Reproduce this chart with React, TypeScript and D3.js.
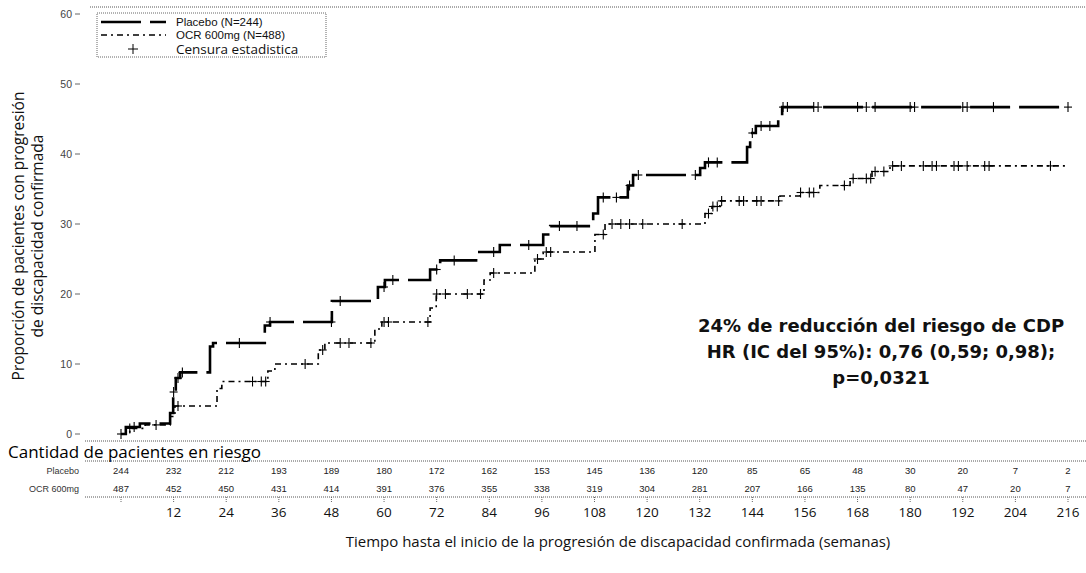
import React, { useEffect, useRef } from 'react';
import * as d3 from 'd3';

// Kaplan-Meier step points (week, % with confirmed progression)
const placeboSteps: [number, number][] = [
  [0, 0], [1.1, 1], [4.3, 1.5], [11.2, 3], [11.9, 6], [12.5, 8], [13.5, 8.8],
  [20.3, 12.5], [21, 13], [32.8, 15.5], [34, 16], [48.1, 19], [58.6, 21], [60.2, 22],
  [70.5, 23.5], [72.8, 24.8], [81.4, 26], [86.4, 27], [96.3, 28.5], [97.9, 29.7],
  [107.7, 31.5], [108.8, 33.8], [115.6, 35.5], [116.8, 37], [132.1, 38], [133.2, 38.8],
  [142.8, 41], [143.5, 43], [144.8, 44], [149.9, 45.5], [150.8, 46.7], [216, 46.7],
];
const ocrSteps: [number, number][] = [
  [0, 0], [2, 0.8], [5.5, 1.3], [11.2, 2.5], [12.3, 4], [21.9, 6.5], [23, 7.5],
  [33.5, 9], [35.1, 10], [45, 12], [46.5, 13], [57.9, 15], [59.5, 16], [70.5, 18],
  [71.9, 20], [82.8, 22], [84.2, 23], [94.4, 25], [96.3, 26], [108.1, 28.5], [110.4, 30],
  [133.2, 31.5], [134.8, 32.5], [136.6, 33.3], [150.3, 34], [154.9, 34.5], [159.4, 35.5],
  [166.3, 36.5], [171.3, 37.5], [175.4, 38.3], [216, 38.3],
];
const placeboCensor = [0, 3, 12, 13, 14, 27, 34, 48, 50, 60, 62, 72, 76, 85, 93, 100, 104, 110, 113, 116, 118, 131, 134, 136, 144, 146, 148, 151, 152, 158, 159, 168, 170, 172, 180, 181, 192, 193, 199, 216];
const ocrCensor = [2, 8, 13, 30, 32, 33, 42, 46, 50, 52, 57, 60, 61, 70, 72, 74, 79, 82, 85, 95, 97, 98, 110, 112, 114, 116, 119, 128, 134, 135, 136, 137, 141, 142, 145, 146, 150, 155, 157, 158, 165, 167, 170, 171, 172, 174, 176, 178, 183, 185, 186, 190, 191, 193, 197, 198, 212];

const riskWeeks = [0, 12, 24, 36, 48, 60, 72, 84, 96, 108, 120, 132, 144, 156, 168, 180, 192, 204, 216];
const placeboRisk = [244, 232, 212, 193, 189, 180, 172, 162, 153, 145, 136, 120, 85, 65, 48, 30, 20, 7, 2];
const ocrRisk = [487, 452, 450, 431, 414, 391, 376, 355, 338, 319, 304, 281, 207, 166, 135, 80, 47, 20, 7];
const xTicks = [12, 24, 36, 48, 60, 72, 84, 96, 108, 120, 132, 144, 156, 168, 180, 192, 204, 216];
const yTicks = [0, 10, 20, 30, 40, 50, 60];

const W = 1086;
const H = 573;

export default function App() {
  const svgRef = useRef<SVGSVGElement>(null);

  useEffect(() => {
    document.body.style.margin = '0';
    const svg = d3.select(svgRef.current);
    svg.selectAll('*').remove();

    const x = d3.scaleLinear().domain([0, 216]).range([121, 1068]);
    const y = d3.scaleLinear().domain([0, 60]).range([434, 14]);
    const sans = "'Open Sans', sans-serif";
    const small = "'Liberation Sans', Arial, sans-serif";

    // dotted frame lines
    const dotted = (x1: number, x2: number, yy: number) =>
      svg.append('line').attr('x1', x1).attr('x2', x2).attr('y1', yy).attr('y2', yy)
        .attr('stroke', '#555').attr('stroke-width', 1).attr('stroke-dasharray', '1,1');
    dotted(90, W, 7);
    dotted(85, W, 441);
    dotted(85, W, 461);
    dotted(85, W, 497);

    // y axis
    const ya = svg.append('g');
    yTicks.forEach((t) => {
      ya.append('text').attr('x', 72).attr('y', y(t) + 3.5).attr('text-anchor', 'end')
        .attr('font-family', small).attr('font-size', 10.5).attr('fill', '#444').text(t);
      ya.append('line').attr('x1', 75).attr('x2', 80).attr('y1', y(t)).attr('y2', y(t))
        .attr('stroke', '#666').attr('stroke-width', 1);
    });
    const yt = svg.append('text').attr('transform', 'translate(0,236) rotate(-90)')
      .attr('text-anchor', 'middle').attr('font-family', sans).attr('font-size', 15.5).attr('fill', '#111');
    yt.append('tspan').attr('x', 0).attr('y', 24).text('Proporción de pacientes con progresión');
    yt.append('tspan').attr('x', 0).attr('y', 43).text('de discapacidad confirmada');

    // curves
    const line = d3.line<[number, number]>().x((d) => x(d[0])).y((d) => y(d[1])).curve(d3.curveStepAfter);
    svg.append('path').attr('d', line(placeboSteps)).attr('fill', 'none').attr('stroke', '#000')
      .attr('stroke-width', 2.6).attr('stroke-dasharray', '40,9');
    svg.append('path').attr('d', line(ocrSteps)).attr('fill', 'none').attr('stroke', '#000')
      .attr('stroke-width', 1.6).attr('stroke-dasharray', '6,4,2,4');

    const valueAt = (steps: [number, number][], t: number) => {
      const i = d3.bisector((d: [number, number]) => d[0]).right(steps, t) - 1;
      return steps[Math.max(0, i)][1];
    };
    const plus = (steps: [number, number][], times: number[]) => {
      const g = svg.append('g').attr('stroke', '#000').attr('stroke-width', 1.1);
      times.forEach((t) => {
        const cx = x(t);
        const cy = y(valueAt(steps, t));
        g.append('line').attr('x1', cx - 4).attr('x2', cx + 4).attr('y1', cy).attr('y2', cy);
        g.append('line').attr('x1', cx).attr('x2', cx).attr('y1', cy - 5).attr('y2', cy + 5);
      });
    };
    plus(placeboSteps, placeboCensor);
    plus(ocrSteps, ocrCensor);

    // legend
    const lg = svg.append('g');
    lg.append('rect').attr('x', 97).attr('y', 13).attr('width', 229).attr('height', 44)
      .attr('fill', '#fff').attr('stroke', '#666').attr('stroke-width', 1).attr('stroke-dasharray', '1,1');
    lg.append('line').attr('x1', 101).attr('x2', 166).attr('y1', 22).attr('y2', 22)
      .attr('stroke', '#000').attr('stroke-width', 2.6).attr('stroke-dasharray', '40,9');
    lg.append('line').attr('x1', 101).attr('x2', 166).attr('y1', 35).attr('y2', 35)
      .attr('stroke', '#000').attr('stroke-width', 1.4).attr('stroke-dasharray', '6,4,2,4');
    lg.append('line').attr('x1', 128).attr('x2', 138).attr('y1', 49).attr('y2', 49).attr('stroke', '#000');
    lg.append('line').attr('x1', 133).attr('x2', 133).attr('y1', 44).attr('y2', 54).attr('stroke', '#000');
    const legText = (yy: number, s: string, fs: number, fam: string) =>
      lg.append('text').attr('x', 176).attr('y', yy).attr('font-family', fam).attr('font-size', fs)
        .attr('fill', '#111').text(s);
    legText(26, 'Placebo (N=244)', 11.5, small);
    legText(39, 'OCR 600mg (N=488)', 11.5, small);
    legText(54, 'Censura estadistica', 13.5, sans);

    // annotation
    const an = svg.append('text').attr('text-anchor', 'middle').attr('font-family', "'DejaVu Sans', sans-serif")
      .attr('font-weight', 'bold').attr('font-size', 18).attr('fill', '#111');
    an.append('tspan').attr('x', 881).attr('y', 332).text('24% de reducción del riesgo de CDP');
    an.append('tspan').attr('x', 881).attr('y', 358).text('HR (IC del 95%): 0,76 (0,59; 0,98);');
    an.append('tspan').attr('x', 881).attr('y', 384).text('p=0,0321');

    // risk table
    svg.append('text').attr('x', 8).attr('y', 458).attr('font-family', sans).attr('font-size', 17)
      .attr('fill', '#000').text('Cantidad de pacientes en riesgo');
    svg.append('text').attr('x', 79).attr('y', 474).attr('text-anchor', 'end').attr('font-family', small)
      .attr('font-size', 9).attr('fill', '#333').text('Placebo');
    svg.append('text').attr('x', 79).attr('y', 492).attr('text-anchor', 'end').attr('font-family', small)
      .attr('font-size', 9).attr('fill', '#333').text('OCR 600mg');
    riskWeeks.forEach((w, i) => {
      svg.append('text').attr('x', x(w)).attr('y', 474).attr('text-anchor', 'middle').attr('font-family', small)
        .attr('font-size', 9.5).attr('fill', '#222').text(placeboRisk[i]);
      svg.append('text').attr('x', x(w)).attr('y', 492).attr('text-anchor', 'middle').attr('font-family', small)
        .attr('font-size', 9.5).attr('fill', '#222').text(ocrRisk[i]);
      svg.append('line').attr('x1', x(w)).attr('x2', x(w)).attr('y1', 497).attr('y2', 502)
        .attr('stroke', '#666').attr('stroke-dasharray', '1,1');
    });

    // x axis labels
    xTicks.forEach((t) => {
      svg.append('text').attr('x', x(t)).attr('y', 517).attr('text-anchor', 'middle').attr('font-family', sans)
        .attr('font-size', 13.5).attr('fill', '#111').text(t);
    });
    svg.append('text').attr('x', 618).attr('y', 547).attr('text-anchor', 'middle').attr('font-family', sans)
      .attr('font-size', 15).attr('fill', '#111')
      .text('Tiempo hasta el inicio de la progresión de discapacidad confirmada (semanas)');
  }, []);

  return <svg ref={svgRef} width={W} height={H} style={{ display: 'block', background: '#fff' }} />;
}
